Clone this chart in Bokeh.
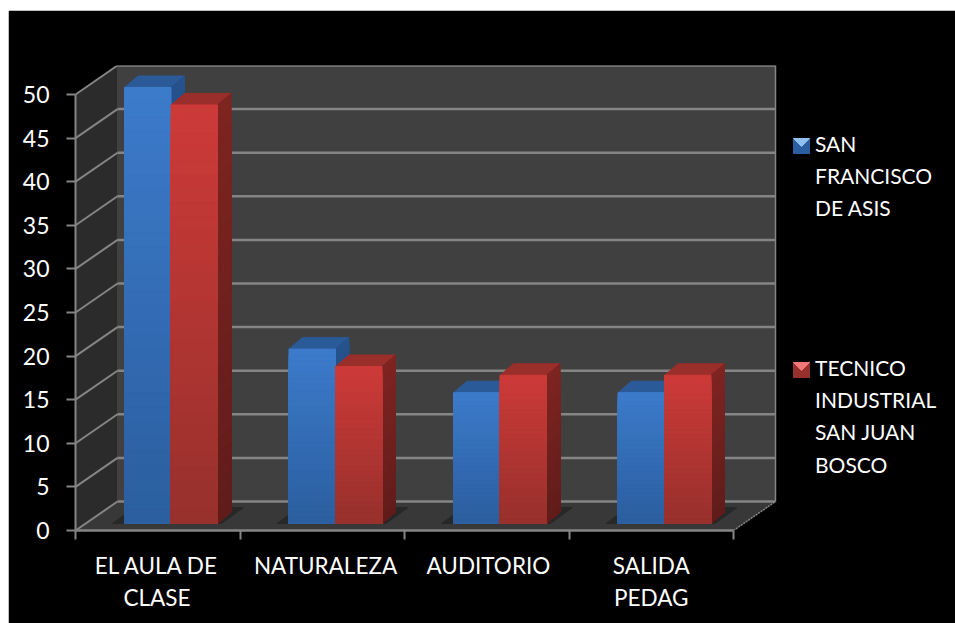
from bokeh.embed import file_html
from bokeh.resources import INLINE
from bokeh.plotting import figure
from bokeh.models import LinearAxis, FixedTicker, Range1d
from bokeh.core.properties import value
import numpy as np

categories_line1 = ["EL AULA DE", "NATURALEZA", "AUDITORIO", "SALIDA"]
categories_line2 = ["CLASE", "", "", "PEDAG"]
san_francisco = [50, 20, 15, 15]
tecnico = [48, 18, 17, 17]
legend_san = ["SAN", "FRANCISCO", "DE ASIS"]
legend_tecnico = ["TECNICO", "INDUSTRIAL", "SAN JUAN", "BOSCO"]
y_ticks = [0, 5, 10, 15, 20, 25, 30, 35, 40, 45, 50]

FONT = "Lato"
PX_X = 164.5   # pixels per category
PX_Y = 8.72    # pixels per value unit
DEPTH_X = 42 / PX_X
DEPTH_Y = 29 / PX_Y
BAR_LEFT = 49 / PX_X
BAR_W = 46.5 / PX_X
BAR_DX = 13.5 / PX_X
BAR_DY = 11.5 / PX_Y
BAR_BASE = 7 / PX_Y
GRID = "#858585"


def px_x(px):
    return (px - 75) / PX_X


def px_y(py):
    return (530 - py) / PX_Y


def mix(a, b, t):
    a, b = np.array(a), np.array(b)
    c = (a + (b - a) * t).round().astype(int)
    return "#%02x%02x%02x" % tuple(c)


p = figure(width=947, height=613, output_backend="svg", toolbar_location=None,
           x_axis_type=None, y_axis_type=None,
           x_range=Range1d(0, 880 / PX_X), y_range=Range1d(0, 465 / PX_Y),
           min_border_left=67, min_border_top=55, min_border_bottom=93, min_border_right=0,
           background_fill_color="black", border_fill_color="black",
           outline_line_color="black", outline_line_width=2)
p.margin = (10, 0, 0, 8)
p.grid.visible = False

# Value axis
ya = LinearAxis(ticker=FixedTicker(ticks=y_ticks), bounds=(0, 50))
ya.axis_line_color = GRID
ya.axis_line_width = 2
ya.major_tick_line_color = GRID
ya.major_tick_line_width = 2
ya.major_tick_out = 9
ya.major_tick_in = 0
ya.minor_tick_line_color = None
ya.major_label_text_color = "white"
ya.major_label_text_font = FONT
ya.major_label_text_font_size = "23px"
ya.major_label_standoff = 17
p.add_layout(ya, "left")

# Category boundaries with tick marks, then two rows of category text
xa = LinearAxis(ticker=FixedTicker(ticks=[0, 1, 2, 3, 4]), bounds=(0, 4))
xa.axis_line_color = GRID
xa.axis_line_width = 2.5
xa.major_tick_line_color = GRID
xa.major_tick_line_width = 2
xa.major_tick_out = 9
xa.major_tick_in = 0
xa.minor_tick_line_color = None
xa.major_label_text_color = None
xa.major_label_text_font_size = "1px"
xa.major_label_standoff = 0
p.add_layout(xa, "below")

centers = [0.495, 1.52, 2.51, 3.5]
for row, standoff in ((categories_line1, 12), (categories_line2, 2)):
    ax = LinearAxis(ticker=FixedTicker(ticks=centers),
                    major_label_overrides={c: t for c, t in zip(centers, row)})
    ax.axis_line_color = None
    ax.major_tick_line_color = None
    ax.minor_tick_line_color = None
    ax.major_tick_out = 0
    ax.major_tick_in = 0
    ax.major_label_text_color = "white"
    ax.major_label_text_font = FONT
    ax.major_label_text_font_size = "22.5px"
    ax.major_label_standoff = standoff
    p.add_layout(ax, "below")

# Walls and floor
p.patch([0, DEPTH_X, DEPTH_X, 0], [0, DEPTH_Y, 50 + DEPTH_Y, 50], color="#2b2b2b")
p.patch([0, 4, 4 + DEPTH_X, DEPTH_X], [0, 0, DEPTH_Y, DEPTH_Y], color="#383838")
p.quad(left=DEPTH_X, right=4 + DEPTH_X, bottom=DEPTH_Y, top=50 + DEPTH_Y, color="#404040")

for v in y_ticks:
    p.line([0, DEPTH_X], [v, v + DEPTH_Y], line_color=GRID, line_width=2)
    p.line([DEPTH_X, 4 + DEPTH_X], [v + DEPTH_Y, v + DEPTH_Y], line_color=GRID, line_width=2.5)
p.line([4 + DEPTH_X, 4 + DEPTH_X], [DEPTH_Y, 50 + DEPTH_Y], line_color=GRID, line_width=1.5)
p.line([4, 4 + DEPTH_X], [0, DEPTH_Y], line_color=GRID, line_width=1.5, line_dash="2 1")

BLUE = dict(top=(60, 122, 202), bot=(42, 94, 158), side_t=(37, 82, 140), side_b=(31, 68, 116),
            roof=(42, 90, 152))
RED = dict(top=(204, 58, 56), bot=(150, 48, 44), side_t=(126, 36, 33), side_b=(96, 28, 26),
           roof=(154, 46, 42))


def draw_bar(x0, val, c):
    x1 = x0 + BAR_W
    y0 = BAR_BASE
    y1 = BAR_BASE + val
    p.patch([x0, x1, x1 + BAR_DX, x0 + BAR_DX], [y1, y1, y1 + BAR_DY, y1 + BAR_DY],
            color=mix(c["roof"], c["roof"], 0))
    # vertical shading: each pass overlaps the previous one so no seams show
    edges = np.linspace(y1, y0, 31)[:-1]
    for b in edges:
        t = (y1 - b) / (y1 - y0)
        p.patch([x1, x1 + BAR_DX, x1 + BAR_DX, x1],
                [y0, y0 + BAR_DY, b + BAR_DY, b],
                color=mix(c["side_t"], c["side_b"], t))
    for b in edges:
        t = (y1 - b) / (y1 - y0)
        p.quad(left=x0, right=x1, bottom=y0, top=b, color=mix(c["top"], c["bot"], t))


for i in range(4):
    x0 = i + BAR_LEFT
    # soft shadow under the pair of bars
    sx0, sx1 = x0 - 12 / PX_X, x0 + 2 * BAR_W + 4 / PX_X
    p.patch([sx0, sx1, sx1 + 22 / PX_X, sx0 + 22 / PX_X],
            [BAR_BASE, BAR_BASE, BAR_BASE + 16 / PX_Y, BAR_BASE + 16 / PX_Y],
            color="#282828")
    draw_bar(x0, san_francisco[i], BLUE)
    draw_bar(x0 + BAR_W, tecnico[i], RED)


def legend_entry(py_marker, lines, py_first, c, tip):
    mx0, mx1 = px_x(793), px_x(809)
    y0, y1 = px_y(py_marker + 15), px_y(py_marker)
    p.quad(left=mx0, right=mx1, bottom=y0, top=y1, color=c["bot"])
    p.patch([mx0, mx1, (mx0 + mx1) / 2], [y1, y1, px_y(py_marker + 8)], color=tip)
    ys = [px_y(py_first + k * 32.2) for k in range(len(lines))]
    p.text([px_x(814.5)] * len(lines), ys, text=lines, text_color="white",
           text_font=value(FONT), text_font_size="21px",
           text_align="left", text_baseline="middle")


legend_entry(138, legend_san, 143, BLUE, "#8fc0f0")
legend_entry(362, legend_tecnico, 367, RED, "#f07878")

open("out.html", "w").write(file_html(p, INLINE))
